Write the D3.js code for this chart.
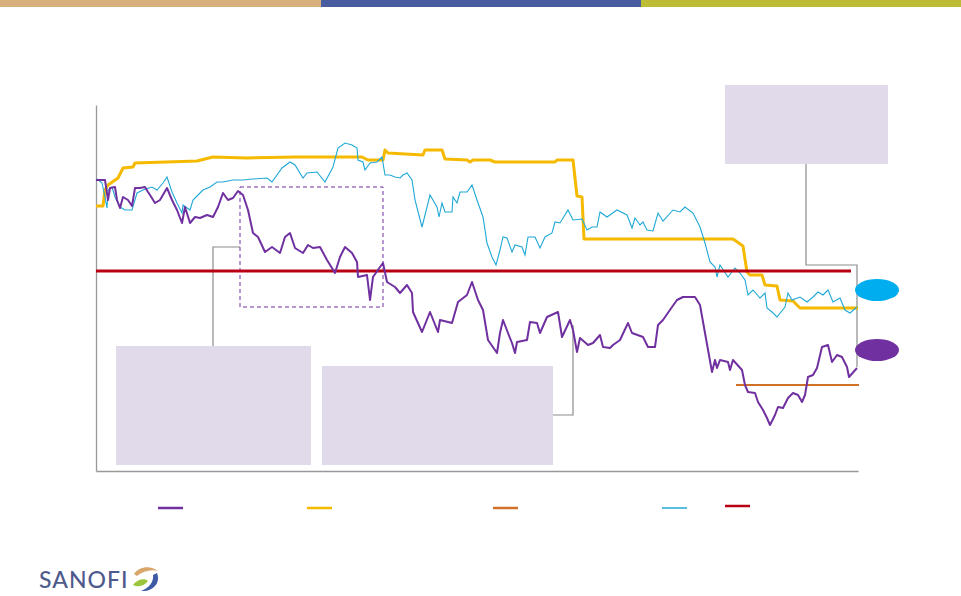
<!DOCTYPE html>
<html><head><meta charset="utf-8">
<script src="https://cdn.jsdelivr.net/npm/d3@7"></script>
<style>html,body{margin:0;padding:0;background:#fff;}svg{display:block;}</style>
</head><body>
<svg id="chart" width="961" height="596"></svg>
<script>
// x = trading-day index, y = index level (arbitrary units)
const stockSeries = [[0,291],[9,291],[12,271],[14,283],[19,284],[21,271],[24,263],[27,274],[32,271],[36,265],[39,283],[44,283],[49,284],[52,279],[54,276],[59,268],[64,271],[71,283],[76,271],[81,261],[86,248],[89,264],[94,248],[99,254],[104,253],[111,256],[117,254],[122,264],[127,278],[132,271],[137,273],[142,280],[147,276],[152,261],[157,238],[162,234],[169,219],[176,224],[184,218],[189,234],[194,238],[199,223],[207,218],[212,226],[217,223],[224,224],[231,211],[239,198],[244,214],[249,224],[256,218],[261,209],[262,194],[271,196],[274,171],[277,194],[284,204],[287,208],[291,189],[299,184],[304,178],[311,186],[316,178],[317,159],[326,139],[334,159],[342,139],[344,151],[356,148],[362,169],[371,176],[376,189],[382,171],[387,161],[392,131],[401,118],[404,138],[407,151],[412,138],[416,128],[419,118],[421,129],[431,131],[434,149],[441,148],[444,138],[451,154],[462,159],[466,134],[474,151],[477,141],[481,119],[484,133],[492,126],[497,128],[504,136],[507,124],[514,123],[517,126],[524,131],[532,148],[536,138],[547,134],[552,124],[559,124],[562,146],[567,151],[576,164],[581,171],[587,174],[599,174],[604,166],[609,138],[616,99],[619,111],[621,103],[624,111],[632,109],[634,101],[637,111],[646,101],[649,86],[652,79],[659,78],[662,69],[667,61],[671,53],[674,46],[679,56],[682,64],[687,63],[692,73],[697,78],[702,76],[706,69],[709,76],[712,94],[717,96],[721,103],[726,124],[732,126],[736,109],[741,116],[746,114],[751,104],[753,94],[761,103]];
const targetSeries = [[0,265],[7,265],[9,281],[12,286],[22,293],[27,303],[37,304],[39,308],[101,310],[117,314],[151,313],[201,314],[266,314],[272,311],[287,311],[289,321],[292,318],[327,316],[329,321],[346,321],[349,312],[371,311],[374,309],[377,311],[394,311],[399,309],[459,309],[461,311],[477,311],[481,275],[486,274],[488,232],[637,232],[647,225],[651,199],[654,196],[666,196],[669,186],[681,185],[684,171],[697,170],[704,163],[762,163]];
const indexSeries = [[1,292],[6,288],[9,274],[11,263],[12,281],[16,284],[19,274],[24,264],[29,261],[36,261],[41,278],[47,281],[56,284],[61,281],[67,288],[71,294],[76,279],[81,268],[86,258],[87,266],[94,261],[97,271],[102,276],[107,281],[114,284],[121,289],[127,289],[137,291],[147,291],[157,292],[171,293],[176,289],[186,303],[194,309],[199,306],[207,293],[211,298],[221,299],[229,289],[237,304],[242,323],[249,328],[256,326],[261,323],[262,311],[267,309],[269,301],[274,308],[281,309],[286,314],[289,296],[294,296],[299,294],[304,293],[307,296],[311,298],[316,291],[319,271],[326,244],[334,276],[341,264],[343,254],[346,268],[349,259],[356,259],[357,274],[361,268],[364,279],[371,279],[376,286],[381,271],[387,254],[391,228],[396,214],[400,206],[404,221],[407,234],[411,233],[416,219],[419,226],[426,224],[429,216],[432,234],[439,234],[444,223],[449,234],[456,238],[459,249],[464,248],[472,261],[477,251],[486,252],[491,241],[496,244],[501,244],[504,259],[511,254],[521,261],[531,256],[536,243],[539,253],[544,246],[547,249],[551,241],[557,240],[562,258],[567,250],[577,261],[584,259],[589,264],[597,258],[604,244],[609,228],[614,209],[619,204],[621,194],[624,206],[632,194],[639,203],[644,198],[649,191],[652,176],[657,181],[664,173],[669,178],[671,163],[676,159],[681,154],[689,164],[692,178],[696,171],[704,174],[711,169],[717,174],[722,179],[727,176],[732,181],[737,169],[744,173],[749,161],[754,158],[761,164]];
const refLevel = [[0,200],[755,200]];
const floorLevel = [[640,86],[763,86]];

const xDomain = [0, 762];
const yDomain = [0, 366];

const C = {purple:"#7030A0", yellow:"#F5BA00", cyan:"#1FA8D6", red:"#B80012", orange:"#D0712A", box:"#E0DAEA", grey:"#8C8C8C"};

const svg = d3.select("#chart");
const x = d3.scaleLinear().domain(xDomain).range([96, 858]);
const y = d3.scaleLinear().domain(yDomain).range([471, 105]);

// top colour band
[["#D8B07E",0,321],["#4A5CA0",321,641],["#BDBD35",641,961]].forEach(b=>{
  svg.append("rect").attr("x",b[1]).attr("y",0).attr("width",b[2]-b[1]).attr("height",7).attr("fill",b[0]);
});

// axes (no ticks)
svg.append("g").attr("transform","translate(96,0)")
  .call(d3.axisLeft(y).tickValues([]).tickSizeOuter(0))
  .select(".domain").attr("stroke","#999").attr("stroke-width",1.3);
svg.append("g").attr("transform","translate(0,471)")
  .call(d3.axisBottom(x).tickValues([]).tickSizeOuter(0))
  .select(".domain").attr("stroke","#999").attr("stroke-width",1.3);

const line = d3.line().x(d=>x(d[0])).y(d=>y(d[1]));

// callout boxes and connectors
const boxes = [[116,346,195,119],[322,366,231,99],[725,85,163,79]];
boxes.forEach(b=>svg.append("rect").attr("x",b[0]).attr("y",b[1]).attr("width",b[2]).attr("height",b[3]).attr("fill",C.box));
const conn = [
  [[213,346],[213,247],[240,247]],
  [[553,415],[573,415],[573,325]],
  [[806,164],[806,265],[857,265],[857,367]]
];
conn.forEach(p=>svg.append("path").attr("d",d3.line()(p)).attr("fill","none").attr("stroke",C.grey).attr("stroke-width",1.2));

// dashed highlight rectangle
svg.append("rect").attr("x",240).attr("y",187).attr("width",143).attr("height",120)
  .attr("fill","none").attr("stroke",C.purple).attr("stroke-width",1).attr("stroke-dasharray","4,3");

// series
svg.append("path").datum(targetSeries).attr("d",line).attr("fill","none").attr("stroke",C.yellow).attr("stroke-width",3).attr("stroke-linejoin","round");
svg.append("path").datum(indexSeries).attr("d",line).attr("fill","none").attr("stroke",C.cyan).attr("stroke-width",1.1);
svg.append("path").datum(refLevel).attr("d",line).attr("fill","none").attr("stroke",C.red).attr("stroke-width",3);
svg.append("path").datum(floorLevel).attr("d",line).attr("fill","none").attr("stroke",C.orange).attr("stroke-width",2);
svg.append("path").datum(stockSeries).attr("d",line).attr("fill","none").attr("stroke",C.purple).attr("stroke-width",2).attr("stroke-linejoin","round");

// end markers
svg.append("ellipse").attr("cx",877).attr("cy",290).attr("rx",22).attr("ry",11).attr("fill","#00AEEF");
svg.append("ellipse").attr("cx",877).attr("cy",350).attr("rx",22).attr("ry",11).attr("fill",C.purple);

// legend samples
const legend = [[158,508,C.purple,2.5],[307,508,C.yellow,2.5],[493,508,C.orange,2.5],[662,508,C.cyan,1.5],[725,506,C.red,2.5]];
legend.forEach(l=>svg.append("line").attr("x1",l[0]).attr("x2",l[0]+25).attr("y1",l[1]).attr("y2",l[1]).attr("stroke",l[2]).attr("stroke-width",l[3]));

// logo
svg.append("text").attr("x",39).attr("y",588).text("SANOFI")
  .attr("font-family","Lato, 'Open Sans', sans-serif").attr("font-size",23).attr("font-weight",500)
  .attr("letter-spacing",1).attr("fill","#4F5A8C");
const lg = svg.append("g").attr("transform","translate(131,565)");
lg.append("path").attr("d","M3,9 C8,1 20,0 27,6 C20,4 12,6 6,11 Z").attr("fill","#D9A66A");
lg.append("path").attr("d","M26,8 C30,18 22,27 10,26 C18,23 23,17 22,10 Z").attr("fill","#3E5AA5");
lg.append("path").attr("d","M2,20 C6,14 14,13 17,16 C14,20 8,23 2,20 Z").attr("fill","#9BC53D");
</script>
</body></html>
